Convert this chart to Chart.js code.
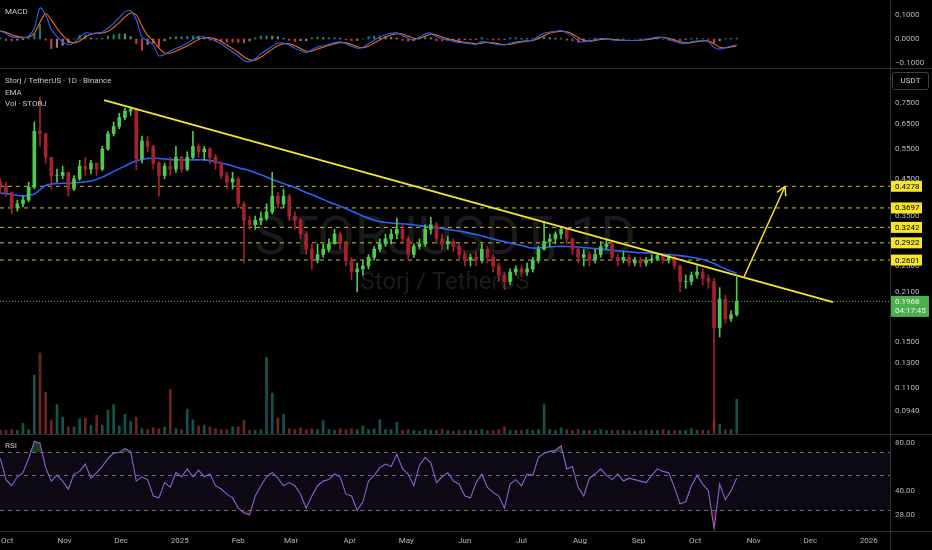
<!DOCTYPE html>
<html>
<head>
<meta charset="utf-8">
<script src="https://cdn.jsdelivr.net/npm/chart.js@4.4.1/dist/chart.umd.min.js"></script>
<style>
  html, body { margin: 0; padding: 0; background: #000; }
  #wrap { position: relative; width: 932px; height: 550px; overflow: hidden; background: #000; font-family: Roboto, 'Noto Sans', sans-serif; }
  .pane { position: absolute; left: 0; }
  .sep-h { position: absolute; left: 0; width: 932px; height: 1px; background: #2a2e39; }
  .sep-v { position: absolute; top: 0; left: 890px; width: 1px; height: 550px; background: #2a2e39; }
  .legend { position: absolute; left: 5px; color: #c3c6ce; font-size: 8px; line-height: 11.5px; white-space: nowrap; }
  #usdt { position: absolute; left: 892px; top: 72px; width: 35px; height: 16px; border: 1px solid #3a3e49; border-radius: 3px;
          color: #d1d4dc; font-size: 8px; line-height: 16px; text-align: center; }
</style>
</head>
<body>
<div id="wrap">
  <canvas id="macd" class="pane" width="932" height="68" style="top:0"></canvas>
  <canvas id="price" class="pane" width="932" height="366" style="top:68px"></canvas>
  <canvas id="rsi" class="pane" width="932" height="116" style="top:434px"></canvas>
  <div class="sep-h" style="top:68px"></div>
  <div class="sep-h" style="top:434px"></div>
  <div class="sep-h" style="top:531px"></div>
  <div class="sep-v"></div>
  <div class="legend" style="top:6px">MACD</div>
  <div class="legend" style="top:75px">Storj / TetherUS · 1D · Binance<br>EMA<br>Vol · STORJ</div>
  <div class="legend" style="top:440px">RSI</div>
  <div id="usdt">USDT</div>
</div>
<script>
// time axis: days since 1 Oct 2024, one candle every 3 days
const START_DAY = -3, STEP = 3;
const X_MIN = -3.18, X_MAX = 468.2;
const monthDays = [0, 31, 61, 92, 123, 151, 182, 212, 243, 273, 304, 335, 365, 396, 426, 457];
const monthLabels = ['Oct', 'Nov', 'Dec', '2025', 'Feb', 'Mar', 'Apr', 'May', 'Jun', 'Jul', 'Aug', 'Sep', 'Oct', 'Nov', 'Dec', '2026'];

const firstOpen = 0.44;
const closes = [
  .430, .410, .370, .380, .390, .425, .620, .610, .520, .460,
  .460, .470, .420, .450, .490, .480, .500, .480, .550, .610,
  .640, .680, .710, .720, .515, .580, .560, .500, .460, .490,
  .480, .520, .480, .520, .560, .540, .550, .520, .500, .460,
  .440, .450, .380, .340, .330, .340, .345, .360, .400, .380,
  .400, .350, .340, .310, .280, .260, .270, .280, .290, .310,
  .290, .260, .240, .245, .250, .265, .280, .290, .300, .310,
  .320, .300, .270, .285, .290, .320, .330, .300, .290, .295,
  .285, .270, .260, .265, .260, .280, .265, .250, .235, .225,
  .240, .245, .240, .245, .260, .280, .295, .300, .310, .320,
  .300, .280, .265, .270, .260, .270, .285, .290, .265, .260,
  .265, .255, .260, .255, .260, .262, .268, .260, .265, .250,
  .225, .225, .235, .240, .230, .225, .165, .200, .175, .180,
  .1968
];
const highs = [
  .450, .440, .412, .390, .400, .440, .660, .780, .610, .520,
  .480, .490, .470, .460, .510, .520, .510, .500, .560, .620,
  .660, .700, .725, .730, .725, .600, .600, .565, .505, .500,
  .520, .560, .525, .540, .620, .570, .560, .555, .530, .505,
  .470, .470, .455, .385, .350, .350, .360, .380, .470, .410,
  .420, .405, .360, .345, .315, .290, .290, .290, .300, .320,
  .315, .295, .265, .255, .260, .270, .285, .300, .310, .320,
  .345, .330, .305, .290, .300, .330, .347, .335, .310, .305,
  .300, .290, .275, .270, .275, .290, .285, .270, .255, .240,
  .245, .250, .250, .255, .265, .285, .337, .310, .315, .325,
  .322, .302, .282, .280, .275, .280, .295, .300, .292, .270,
  .275, .270, .265, .265, .265, .270, .271, .272, .270, .270,
  .252, .235, .240, .250, .245, .235, .230, .216, .205, .185,
  .232
];
const lows = [
  .410, .400, .355, .362, .372, .385, .420, .560, .500, .420,
  .440, .450, .400, .415, .445, .460, .465, .460, .475, .545,
  .600, .630, .670, .690, .478, .500, .540, .480, .400, .450,
  .460, .470, .470, .475, .515, .520, .510, .500, .480, .450,
  .420, .420, .370, .255, .320, .320, .330, .340, .355, .370,
  .370, .340, .320, .300, .270, .244, .255, .265, .275, .290,
  .280, .250, .228, .210, .235, .245, .260, .275, .285, .290,
  .300, .290, .260, .265, .280, .285, .310, .290, .280, .280,
  .275, .260, .250, .250, .250, .255, .255, .240, .225, .213,
  .220, .235, .232, .235, .240, .255, .278, .285, .290, .300,
  .290, .270, .255, .250, .250, .255, .265, .280, .260, .250,
  .255, .250, .250, .248, .250, .255, .260, .255, .255, .245,
  .210, .215, .220, .230, .220, .215, .083, .155, .170, .172,
  .178
];
// volume, relative units
const volumes = [
  4, 4, 5, 4, 12, 5, 66, 91, 47, 15,
  33, 19, 8, 8, 17, 18, 10, 21, 10, 27,
  33, 9, 22, 14, 19, 6, 5, 7, 6, 8,
  50, 6, 5, 28, 16, 9, 10, 8, 6, 5,
  5, 8, 8, 15, 4, 4, 5, 86, 46, 18,
  22, 6, 5, 7, 5, 6, 5, 15, 5, 4,
  6, 5, 6, 5, 9, 5, 6, 16, 5, 5,
  13, 4, 5, 4, 3, 5, 4, 4, 5, 4,
  3, 4, 4, 4, 4, 5, 4, 4, 5, 8,
  4, 4, 4, 5, 4, 5, 33, 5, 4, 7,
  5, 4, 5, 4, 4, 4, 5, 4, 4, 4,
  4, 4, 3, 4, 4, 4, 4, 5, 4, 4,
  4, 4, 6, 4, 4, 4, 15, 11, 5, 5,
  39
];
// EMA, one value every 6 days
const ema = [
  .409, .405, .401, .406, .430, .436, .437, .439, .443, .455,
  .473, .490, .508, .516, .516, .512, .511, .511, .511, .505,
  .496, .485, .475, .462, .448, .436, .424, .410, .398, .385,
  .374, .362, .350, .340, .335, .333, .331, .328, .325, .322,
  .318, .314, .309, .303, .297, .292, .287, .282, .283, .285,
  .285, .284, .282, .280, .278, .276, .274, .273, .272, .270,
  .268, .265, .261, .254, .245, .238
];
const macd = [
  .037, .022, .010, .006, .004, .012, .045, .130, .100, .040,
  .010, -.012, -.024, -.015, .008, .025, .024, .025, .028, .045,
  .065, .090, .113, .118, .080, .008, -.008, -.025, -.070, -.065,
  -.050, -.040, -.030, -.018, -.002, .010, .008, .000, -.008, -.020,
  -.038, -.053, -.070, -.090, -.095, -.082, -.062, -.046, -.030, -.018,
  -.017, -.025, -.038, -.048, -.057, -.045, -.033, -.029, -.022, -.015,
  -.012, -.020, -.030, -.038, -.035, -.020, -.005, .008, .018, .024,
  .026, .015, .003, -.004, .008, .022, .025, .010, .000, -.004,
  -.010, -.015, -.016, -.020, -.022, -.011, -.014, -.020, -.024, -.025,
  -.018, -.012, -.010, -.007, -.004, .012, .024, .029, .032, .035,
  .025, .013, -.008, -.012, -.008, -.002, .001, .002, -.004, -.006,
  -.006, -.006, -.006, -.004, -.001, .003, .008, .006, -.002, -.010,
  -.017, -.018, -.012, -.008, -.007, -.010, -.035, -.042, -.035, -.030,
  -.024
];
const signal = [
  .032, .028, .018, .011, .007, .008, .024, .070, .105, .080,
  .045, .015, -.008, -.016, -.008, .008, .020, .024, .025, .032,
  .048, .068, .092, .108, .100, .055, .015, -.008, -.038, -.058,
  -.058, -.050, -.040, -.029, -.015, -.002, .005, .005, .000, -.010,
  -.025, -.040, -.056, -.074, -.087, -.087, -.075, -.059, -.042, -.028,
  -.020, -.020, -.028, -.040, -.050, -.050, -.042, -.034, -.027, -.020,
  -.015, -.016, -.023, -.032, -.036, -.030, -.017, -.004, .008, .017,
  .022, .021, .012, .003, .002, .012, .020, .017, .008, .001,
  -.004, -.010, -.014, -.017, -.020, -.017, -.014, -.016, -.020, -.023,
  -.022, -.017, -.012, -.009, -.006, .002, .014, .024, .029, .032,
  .030, .021, .006, -.005, -.009, -.006, -.002, .000, -.001, -.004,
  -.005, -.006, -.006, -.005, -.003, .000, .004, .006, .003, -.004,
  -.011, -.016, -.015, -.011, -.008, -.008, -.020, -.034, -.037, -.033,
  -.028
];
const rsi = [
  64, 47, 43, 49, 52, 64, 82, 80, 56, 46,
  50, 46, 41, 51, 53, 59, 48, 52, 57, 64,
  69, 70, 74, 71, 46, 49, 47, 37, 36, 45,
  42, 52, 49, 55, 49, 54, 49, 51, 43, 41,
  38, 36, 31, 29, 28, 37, 43, 49, 52, 48,
  43, 45, 43, 38, 31, 37, 43, 46, 47, 51,
  49, 38, 37, 30, 34, 46, 50, 56, 59, 57,
  68, 55, 51, 43, 58, 65, 60, 45, 49, 52,
  46, 44, 37, 36, 45, 51, 42, 39, 37, 31,
  44, 47, 43, 51, 50, 65, 69, 71, 72, 77,
  55, 57, 42, 37, 48, 51, 55, 50, 47, 51,
  46, 48, 47, 46, 45, 50, 55, 53, 52, 42,
  33, 34, 43, 50, 44, 40, 23, 44, 35, 40,
  48
];

const levels = [0.4278, 0.3697, 0.3242, 0.2922, 0.2601];
const priceTicks = [0.75, 0.65, 0.55, 0.45, 0.35, 0.25, 0.21, 0.15, 0.13, 0.11, 0.094];
const macdTicks = [0.1, 0, -0.1];
const rsiTicks = [80, 40, 28];
const rsiLines = [70, 50, 30];
const trendLine = [[51.9, 0.765], [438.0, 0.196]];
const targetArrow = [[390.9, 0.2325], [412.6, 0.4278]];
const countdown = '04:17:45';

const UP = '#4fc94f', DOWN = '#a5222d';
const AXIS_TEXT = '#b2b5be';
const FONT = { family: 'Roboto, sans-serif', size: 8 };

const days = closes.map((_, i) => START_DAY + STEP * i);
const opens = closes.map((c, i) => i === 0 ? firstOpen : closes[i - 1]);
const isUp = closes.map((c, i) => c >= opens[i]);
const candleColors = isUp.map(u => u ? UP : DOWN);
const hist = macd.map((m, i) => m - signal[i]);

function xScale() {
    return { type: 'linear', min: X_MIN, max: X_MAX, display: false, offset: false };
}
function fitRight(s) {
    s.width = 42;
    s.paddingTop = 0;
    s.paddingBottom = 0;
}
function rightAxis(opts, tickList, fmt) {
    return Object.assign({
        position: 'right',
        grid: { display: false, drawTicks: false },
        border: { display: false },
        afterBuildTicks: s => { s.ticks = tickList.map(v => ({ value: v })); },
        afterFit: fitRight,
        ticks: { color: AXIS_TEXT, font: FONT, padding: 5, autoSkip: false, callback: fmt }
    }, opts);
}
const baseOptions = {
    responsive: false,
    animation: false,
    events: [],
    plugins: { legend: { display: false }, tooltip: { enabled: false } }
};

// ---------- MACD ----------
new Chart(document.getElementById('macd'), {
    type: 'bar',
    data: {
        datasets: [
            {
                type: 'line', data: days.map((d, i) => ({ x: d, y: macd[i] })),
                borderColor: '#2962ff', borderWidth: 1.1, pointRadius: 0, tension: 0.3, order: 1
            },
            {
                type: 'line', data: days.map((d, i) => ({ x: d, y: signal[i] })),
                borderColor: '#ff6d00', borderWidth: 1.1, pointRadius: 0, tension: 0.3, order: 2
            },
            {
                type: 'bar', data: days.map((d, i) => ({ x: d, y: hist[i] })),
                backgroundColor: hist.map((h, i) => {
                    let prev = i ? hist[i - 1] : 0;
                    if (h >= 0) return h >= prev ? 'rgba(38,166,154,0.75)' : 'rgba(178,223,219,0.6)';
                    return h <= prev ? 'rgba(255,82,82,0.75)' : 'rgba(255,205,210,0.6)';
                }),
                barThickness: 1.5, grouped: false, order: 3
            }
        ]
    },
    options: Object.assign({}, baseOptions, {
        layout: { padding: 0 },
        scales: {
            x: xScale(),
            y: rightAxis({ type: 'linear', min: -0.1208, max: 0.1625 }, macdTicks,
                v => (v < 0 ? '\u2212' : '') + Math.abs(v).toFixed(4))
        }
    })
});

// ---------- price ----------
let priceDatasets = [
    {
        type: 'bar', yAxisID: 'yv', data: days.map((d, i) => ({ x: d, y: volumes[i] })),
        backgroundColor: isUp.map(u => u ? 'rgba(38,166,154,0.5)' : 'rgba(239,83,80,0.45)'),
        barThickness: 2, grouped: false, order: 10
    }
];
levels.forEach(lv => {
    priceDatasets.push({
        type: 'line', data: [{ x: X_MIN, y: lv }, { x: X_MAX, y: lv }],
        borderColor: 'rgba(235,220,40,0.85)', borderWidth: 1, borderDash: [4, 4], pointRadius: 0, order: 6
    });
});
priceDatasets.push(
    {
        type: 'line', data: ema.map((v, k) => ({ x: START_DAY + 2 * STEP * k, y: v })),
        borderColor: '#2962ff', borderWidth: 1.6, pointRadius: 0, tension: 0.3, order: 5
    },
    {
        type: 'bar', data: days.map((d, i) => ({
            x: d, y: [Math.min(lows[i], opens[i], closes[i]), Math.max(highs[i], opens[i], closes[i])]
        })),
        backgroundColor: candleColors, barThickness: 1, grouped: false, order: 3
    },
    {
        type: 'bar', data: days.map((d, i) => ({ x: d, y: [opens[i], closes[i]] })),
        backgroundColor: candleColors, barThickness: 3, grouped: false, order: 2
    },
    {
        type: 'line', data: trendLine.map(p => ({ x: p[0], y: p[1] })),
        borderColor: '#f5e52b', borderWidth: 1.8, pointRadius: 0, order: 1
    },
    {
        type: 'line', data: targetArrow.map(p => ({ x: p[0], y: p[1] })),
        borderColor: '#f5e52b', borderWidth: 1.5, pointRadius: 0, order: 0
    }
);
const arrowIndex = priceDatasets.length - 1;

const priceDecor = {
    id: 'priceDecor',
    beforeDatasetsDraw(chart) {
        const { ctx, chartArea: a, scales: { y } } = chart;
        ctx.save();
        ctx.fillStyle = 'rgba(255,255,255,0.1)';
        ctx.textAlign = 'center';
        ctx.textBaseline = 'middle';
        ctx.font = '54px Roboto, sans-serif';
        ctx.fillText('STORJUSDT, 1D', (a.left + a.right) / 2, 172);
        ctx.font = '24px Roboto, sans-serif';
        ctx.fillText('Storj / TetherUS', (a.left + a.right) / 2, 215);
        let py = y.getPixelForValue(closes[closes.length - 1]);
        ctx.strokeStyle = '#4caf50';
        ctx.lineWidth = 1;
        ctx.setLineDash([1, 2]);
        ctx.beginPath();
        ctx.moveTo(a.left, py);
        ctx.lineTo(a.right, py);
        ctx.stroke();
        ctx.restore();
    },
    afterDatasetsDraw(chart) {
        const ctx = chart.ctx;
        const pts = chart.getDatasetMeta(arrowIndex).data;
        let p0 = pts[0], p1 = pts[1];
        let ang = Math.atan2(p1.y - p0.y, p1.x - p0.x);
        ctx.save();
        ctx.strokeStyle = '#f5e52b';
        ctx.lineWidth = 1.5;
        ctx.beginPath();
        [-0.5, 0.5].forEach(da => {
            ctx.moveTo(p1.x, p1.y);
            ctx.lineTo(p1.x - 10 * Math.cos(ang + da), p1.y - 10 * Math.sin(ang + da));
        });
        ctx.stroke();
        ctx.restore();
    },
    afterDraw(chart) {
        const { ctx, chartArea: a, scales: { y } } = chart;
        ctx.save();
        ctx.font = '8px Roboto, sans-serif';
        ctx.textBaseline = 'middle';
        ctx.textAlign = 'left';
        levels.forEach(lv => {
            let py = y.getPixelForValue(lv);
            ctx.fillStyle = '#f5e52b';
            ctx.fillRect(a.right, py - 5.5, 32, 11);
            ctx.fillStyle = '#000';
            ctx.fillText(lv.toFixed(4), a.right + 5, py + 0.5);
        });
        let last = closes[closes.length - 1];
        let py = y.getPixelForValue(last);
        ctx.fillStyle = '#4caf50';
        ctx.fillRect(a.right, py - 5.5, 39, 21);
        ctx.fillStyle = '#f2f7e6';
        ctx.fillText(last.toFixed(4), a.right + 5, py + 0.5);
        ctx.fillText(countdown, a.right + 5, py + 10);
        ctx.restore();
    }
};

new Chart(document.getElementById('price'), {
    type: 'bar',
    data: { datasets: priceDatasets },
    options: Object.assign({}, baseOptions, {
        layout: { padding: 0 },
        scales: {
            x: xScale(),
            y: rightAxis({ type: 'logarithmic', min: 0.0805, max: 0.9497 }, priceTicks, v => Number(v).toFixed(4)),
            yv: { type: 'linear', display: false, min: 0, max: 411 }
        }
    }),
    plugins: [priceDecor]
});

// ---------- RSI ----------
const rsiDecor = {
    id: 'rsiDecor',
    beforeDatasetsDraw(chart) {
        const { ctx, chartArea: a, scales: { y } } = chart;
        ctx.save();
        let top = y.getPixelForValue(70), bottom = y.getPixelForValue(30);
        ctx.fillStyle = 'rgba(126,87,194,0.1)';
        ctx.fillRect(a.left, top, a.right - a.left, bottom - top);
        ctx.strokeStyle = 'rgba(170,172,182,0.6)';
        ctx.lineWidth = 1;
        ctx.setLineDash([4, 4]);
        rsiLines.forEach(v => {
            let py = Math.round(y.getPixelForValue(v)) + 0.5;
            ctx.beginPath();
            ctx.moveTo(a.left, py);
            ctx.lineTo(a.right, py);
            ctx.stroke();
        });
        ctx.restore();
    },
    afterDraw(chart) {
        const { ctx, chartArea: a, scales: { x } } = chart;
        ctx.save();
        ctx.font = '8px Roboto, sans-serif';
        ctx.fillStyle = AXIS_TEXT;
        ctx.textAlign = 'center';
        ctx.textBaseline = 'middle';
        monthDays.forEach((d, i) => {
            let w = ctx.measureText(monthLabels[i]).width;
            let px = Math.max(x.getPixelForValue(d), w / 2 + 1);
            ctx.fillText(monthLabels[i], px, a.bottom + 9.5);
        });
        ctx.restore();
    }
};

new Chart(document.getElementById('rsi'), {
    type: 'line',
    data: {
        datasets: [
            {
                data: days.map((d, i) => ({ x: d, y: rsi[i] })),
                borderColor: '#8a63cf', borderWidth: 1.1, pointRadius: 0, order: 1
            },
            {
                data: days.map((d, i) => ({ x: d, y: rsi[i] })),
                borderWidth: 0, pointRadius: 0, order: 2,
                fill: { target: { value: 70 }, above: 'rgba(76,175,80,0.35)', below: 'rgba(0,0,0,0)' }
            },
            {
                data: days.map((d, i) => ({ x: d, y: rsi[i] })),
                borderWidth: 0, pointRadius: 0, order: 3,
                fill: { target: { value: 30 }, above: 'rgba(0,0,0,0)', below: 'rgba(242,54,69,0.3)' }
            }
        ]
    },
    options: Object.assign({}, baseOptions, {
        layout: { padding: { bottom: 19 } },
        scales: {
            x: xScale(),
            y: rightAxis({ type: 'logarithmic', min: 22.2, max: 91.5 }, rsiTicks, v => Number(v).toFixed(2))
        }
    }),
    plugins: [rsiDecor]
});
</script>
</body>
</html>
